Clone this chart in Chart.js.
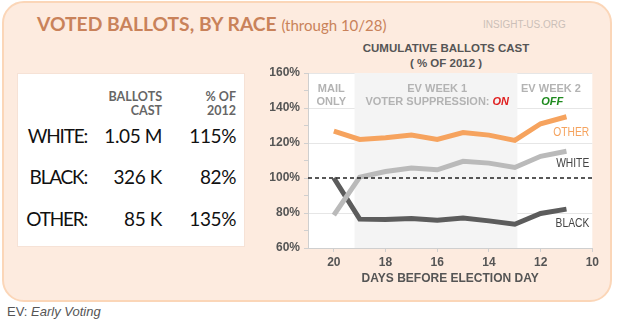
<!DOCTYPE html>
<html>
<head>
<meta charset="utf-8">
<script src="https://cdn.jsdelivr.net/npm/chart.js@4.4.1/dist/chart.umd.min.js"></script>
<style>
  body { margin: 0; width: 620px; height: 323px; background: #fff; position: relative; overflow: hidden; font-family: "Liberation Sans", Arial, sans-serif; }
  .card { position: absolute; left: 2px; top: 1px; width: 606px; height: 297px; background: #fdebdf; border: 2px solid #fbd6b8; border-radius: 22px; }
  .title { position: absolute; left: 37px; top: 12px; font-family: Lato, sans-serif; font-weight: 700; font-size: 19.3px; color: #c9825a; white-space: nowrap; }
  .title span { font-weight: 400; font-size: 15px; }
  .site { position: absolute; left: 483px; top: 19px; font-size: 10px; color: #cbbfb8; }
  .table { position: absolute; left: 17px; top: 73px; width: 226px; height: 172px; background: #fff; border: 1px solid #f6e2d6; font-family: Lato, sans-serif; }
  .table div { position: absolute; text-align: right; white-space: nowrap; }
  .hd { font-size: 12.5px; font-weight: 700; color: #666; line-height: 14px; }
  .row { font-size: 19px; color: #111; letter-spacing: -0.4px; }
  .lab { letter-spacing: -1.2px; }
  .ctitle { position: absolute; left: 296px; width: 300px; text-align: center; font-weight: 700; font-size: 11.5px; color: #555; }
  .foot { position: absolute; left: 7px; top: 304px; font-size: 13px; color: #555; }
  #wrap { position: absolute; left: 262px; top: 38px; width: 340px; height: 252px; }
</style>
</head>
<body>
<div class="card"></div>
<div class="title">VOTED BALLOTS, BY RACE <span>(through 10/28)</span></div>
<div class="site">INSIGHT-US.ORG</div>

<div class="table">
  <div class="hd" style="right:82px; top:16px;">BALLOTS<br>CAST</div>
  <div class="hd" style="right:8px; top:16px;">% OF<br>2012</div>
  <div class="row lab" style="right:157px; top:50px;">WHITE:</div>
  <div class="row" style="right:82px; top:50px;">1.05 M</div>
  <div class="row" style="right:8px; top:50px;">115%</div>
  <div class="row lab" style="right:157px; top:91px;">BLACK:</div>
  <div class="row" style="right:82px; top:91px;">326 K</div>
  <div class="row" style="right:8px; top:91px;">82%</div>
  <div class="row lab" style="right:157px; top:133px;">OTHER:</div>
  <div class="row" style="right:82px; top:133px;">85 K</div>
  <div class="row" style="right:8px; top:133px;">135%</div>
</div>

<div class="ctitle" style="top:42px;">CUMULATIVE BALLOTS CAST</div>
<div class="ctitle" style="top:57px;">( % OF 2012 )</div>
<div class="foot">EV: <i>Early Voting</i></div>

<div id="wrap"><canvas id="c"></canvas></div>

<script>
const days = [20, 19, 18, 17, 16, 15, 14, 13, 12, 11];
const other = [126.8, 122, 123, 124.5, 122, 126, 124.5, 121.5, 131, 135];
const white = [78.8, 100.5, 103.7, 105.7, 104.7, 109.5, 108.5, 106, 112.4, 115.3];
const black = [100, 76.5, 76.3, 76.8, 75.9, 77.2, 75.5, 73.6, 79.7, 82.2];
const xTicks = [20, 18, 16, 14, 12, 10];
const xRange = [21, 10];
const yRange = [60, 160];
const ev1Range = [19.2, 12.9];
const baseline = 100;

const pts = vals => vals.map((v, i) => ({ x: days[i], y: v }));

// narrow right-aligned text for the series names
function narrowText(ctx, txt, x, y, sx) {
  ctx.save();
  ctx.translate(x, y);
  ctx.scale(sx, 1);
  ctx.fillText(txt, 0, 0);
  ctx.restore();
}

// shaded week-1 band and text notes
const notes = {
  id: 'notes',
  beforeDatasetsDraw(chart) {
    const { ctx, chartArea: a, scales: { x } } = chart;
    ctx.save();
    ctx.fillStyle = '#f4f4f4';
    const x0 = x.getPixelForValue(ev1Range[0]), x1 = x.getPixelForValue(ev1Range[1]);
    ctx.fillRect(x0, a.top, x1 - x0, a.bottom - a.top);
    ctx.restore();
  },
  afterDatasetsDraw(chart) {
    const { ctx, scales: { x, y } } = chart;
    const f = 'bold 11px "Liberation Sans", Arial';
    const fi = 'italic bold 11px "Liberation Sans", Arial';
    ctx.save();
    ctx.textBaseline = 'middle';
    ctx.textAlign = 'center';
    ctx.font = f;
    ctx.fillStyle = '#b3b3b3';
    const top1 = y.getPixelForValue(151), top2 = top1 + 13;
    ctx.fillText('MAIL', x.getPixelForValue(20.1), top1);
    ctx.fillText('ONLY', x.getPixelForValue(20.1), top2);
    ctx.fillText('EV WEEK 1', x.getPixelForValue(16.0), top1);
    ctx.fillText('EV WEEK 2', x.getPixelForValue(11.6), top1);
    // VOTER SUPPRESSION: ON
    const a1 = 'VOTER SUPPRESSION: ';
    const w1 = ctx.measureText(a1).width;
    ctx.font = fi;
    const w2 = ctx.measureText('ON').width;
    const sx = x.getPixelForValue(16.0) - (w1 + w2) / 2;
    ctx.textAlign = 'left';
    ctx.font = f;
    ctx.fillText(a1, sx, top2);
    ctx.font = fi;
    ctx.fillStyle = '#e02020';
    ctx.fillText('ON', sx + w1, top2);
    ctx.textAlign = 'center';
    ctx.fillStyle = '#1e8a1e';
    ctx.fillText('OFF', x.getPixelForValue(11.55), top2);
    // series labels
    ctx.textAlign = 'right';
    ctx.font = '13.5px "Liberation Sans", Arial';
    const rx = x.getPixelForValue(10.12);
    ctx.fillStyle = '#f5a35e';
    narrowText(ctx, 'OTHER', rx, y.getPixelForValue(126.2), 0.76);
    ctx.fillStyle = '#444';
    narrowText(ctx, 'WHITE', rx, y.getPixelForValue(108.4), 0.76);
    narrowText(ctx, 'BLACK', rx, y.getPixelForValue(74.3), 0.76);
    ctx.restore();
  }
};

new Chart(document.getElementById('c'), {
  type: 'line',
  data: {
    datasets: [
      { data: [{ x: xRange[0], y: baseline }, { x: xRange[1], y: baseline }], borderColor: '#222', borderWidth: 1.3, borderDash: [4, 3], pointRadius: 0 },
      { data: pts(white), borderColor: '#bababa', borderWidth: 5, pointRadius: 0 },
      { data: pts(black), borderColor: '#5c5c5c', borderWidth: 5, pointRadius: 0 },
      { data: pts(other), borderColor: '#f6a35e', borderWidth: 5, pointRadius: 0 }
    ]
  },
  options: {
    responsive: true,
    maintainAspectRatio: false,
    animation: false,
    layout: { padding: { top: 35, right: 8, left: 0, bottom: 0 } },
    plugins: { legend: { display: false }, tooltip: { enabled: false } },
    scales: {
      x: {
        type: 'linear', reverse: true, min: xRange[1], max: xRange[0],
        afterBuildTicks: s => { s.ticks = xTicks.map(v => ({ value: v })); },
        afterFit: s => { s.height = 42; },
        grid: { drawOnChartArea: false, color: '#cfcfcf', tickLength: 4 },
        border: { color: '#cfcfcf' },
        ticks: { color: '#555', font: { family: '"Liberation Sans", Arial', weight: 'bold', size: 12 }, padding: 3, maxRotation: 0 },
        title: { display: true, text: 'DAYS BEFORE ELECTION DAY', color: '#555', font: { family: '"Liberation Sans", Arial', weight: 'bold', size: 12 }, padding: { top: 2 } }
      },
      y: {
        min: yRange[0], max: yRange[1],
        afterFit: s => { s.width = 46; },
        ticks: { stepSize: 10, color: '#555', font: { family: '"Liberation Sans", Arial', weight: 'bold', size: 12 }, padding: 4,
          callback: v => (v % 20 === 0 ? v + '%' : '') },
        grid: { tickLength: 4, color: c => (c.tick && c.tick.value % 20 === 0 && c.tick.value !== baseline && c.tick.value !== yRange[0] ? '#e6e6e6' : 'rgba(0,0,0,0)'), tickColor: '#cfcfcf' },
        border: { color: '#cfcfcf' }
      }
    }
  },
  plugins: [notes, {
    id: 'bg',
    beforeDraw(chart) {
      const { ctx, chartArea: a } = chart;
      ctx.save(); ctx.fillStyle = '#fff';
      ctx.fillRect(a.left, a.top, a.right - a.left, a.bottom - a.top);
      ctx.restore();
    }
  }]
});
</script>
</body>
</html>
